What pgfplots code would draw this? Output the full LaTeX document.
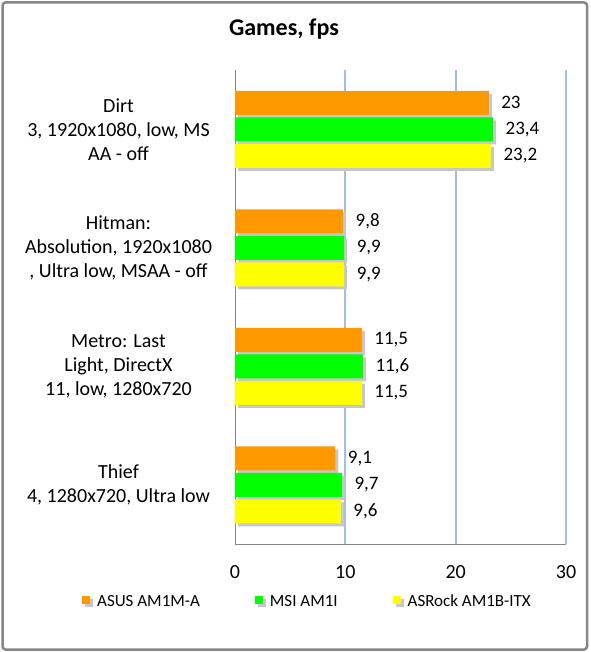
\documentclass[border=0pt]{standalone}
\usepackage{pgfplots}
\pgfplotsset{compat=1.18}
\usepackage{fontspec}
\setmainfont{Carlito}
\definecolor{ora}{RGB}{255,153,0}
\definecolor{grn}{RGB}{0,255,0}
\definecolor{yel}{RGB}{255,255,0}
\definecolor{gridc}{RGB}{165,190,228}
\definecolor{bord}{RGB}{134,134,134}
\tikzset{shadowbar/.style={preaction={fill=black!22, transform canvas={xshift=3pt, yshift=-3pt}}}}
\begin{document}
\begin{tikzpicture}
\useasboundingbox (0,0) rectangle (590pt,-652pt);
\draw[bord, line width=2.5pt, rounded corners=3pt] (2.5pt,-2.5pt) rectangle (587pt,-649.5pt);
\node[font=\fontsize{24}{28}\selectfont\bfseries] at (284pt,-29pt) {Games, fps};
\begin{axis}[
 at={(235pt,-544pt)}, anchor=south west,
 scale only axis, width=331pt, height=474pt,
 xbar, bar width=24pt,
 xmin=0, xmax=30, ymin=-0.5, ymax=3.5, y dir=reverse,
 axis x line=bottom, axis y line=left,
 axis line style={-, draw=bord, line width=1pt},
 xtick={0,10,20,30}, ytick={0,1,2,3},
 yticklabels={{Dirt\\3, 1920x1080, low, MS\\AA - off},{Hitman:\\Absolution, 1920x1080\\, Ultra low, MSAA - off},{Metro: Last\\Light, DirectX\\11, low, 1280x720},{Thief\\4, 1280x720, Ultra low}},
 major tick length=0pt,
 xticklabel style={font=\fontsize{20}{24}\selectfont, yshift=-18pt},
 yticklabel style={font=\fontsize{20}{24}\selectfont, align=center, anchor=center, xshift=-116.5pt},
 extra x ticks={10,20,30}, extra x tick labels={},
 extra x tick style={grid=major, major grid style={gridc, line width=1.8pt}},
 point meta=x, nodes near coords,
 nodes near coords style={font=\fontsize{19}{22}\selectfont, anchor=west, xshift=9pt, text=black},
 /pgf/number format/use comma, /pgf/number format/assume math mode=true,
 legend columns=3,
 legend style={at={(axis description cs:0.219,-0.122)}, anchor=center, draw=none, fill=none,
   font=\fontsize{17}{20}\selectfont, /tikz/every even column/.append style={column sep=53pt}},
 legend image code/.code={\fill[shadowbar/.style={}, #1, draw=none] (0pt,-2pt) rectangle (8pt,6pt); \path (13pt,0pt);},
]
\addplot[fill=ora, draw=none, shadowbar, bar shift=26.5pt] coordinates {(23,0) (9.8,1) (11.5,2) (9.1,3)};
\addplot[fill=grn, draw=none, shadowbar, bar shift=0pt] coordinates {(23.4,0) (9.9,1) (11.6,2) (9.7,3)};
\addplot[fill=yel, draw=none, shadowbar, bar shift=-26.5pt] coordinates {(23.2,0) (9.9,1) (11.5,2) (9.6,3)};
\legend{ASUS AM1M-A, MSI AM1I, ASRock AM1B-ITX}
\end{axis}
\end{tikzpicture}
\end{document}
